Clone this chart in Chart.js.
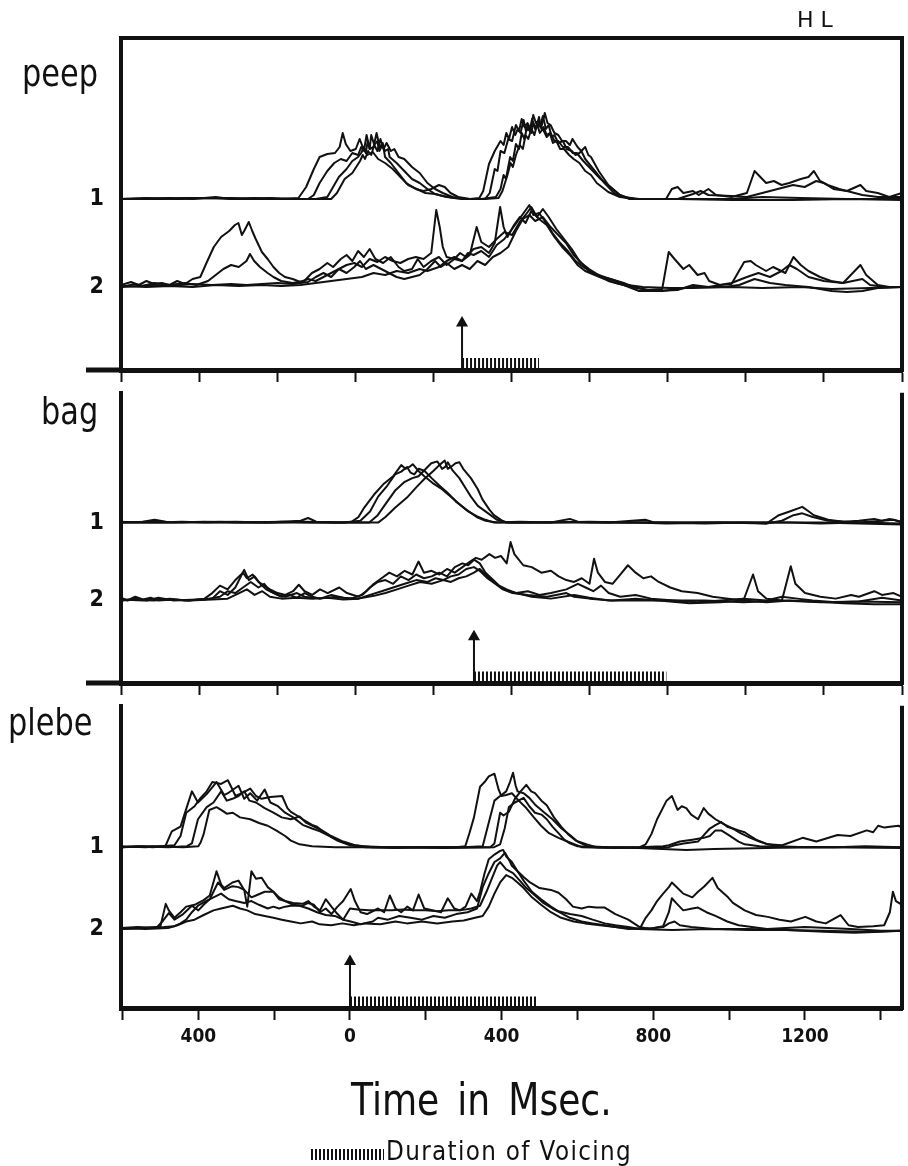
<!DOCTYPE html>
<html>
<head>
  <title>HL - peep / bag / plebe</title>
  <meta charset="UTF-8">
  <script src="https://cdn.jsdelivr.net/npm/chart.js@4"></script>
  <style>
    body { margin: 0; background: #fff; }
    #page { position: relative; width: 908px; height: 1166px; overflow: hidden; color: #111;
            font-family: 'DejaVu Sans', sans-serif; }
    canvas { position: absolute; left: 0; }
    .lbl { position: absolute; white-space: nowrap; line-height: 1; transform-origin: 0 0; }
    .word { font-size: 38px; transform: scaleX(0.8); }
    #voiceKey { position: absolute; left: 311px; top: 1149px; width: 73px; height: 11px;
                background: repeating-linear-gradient(90deg, #111 0 2px, transparent 2px 4px); }
  </style>
</head>
<body>
<div id="page">
  <canvas id="c1" width="908" height="410" style="top:0px"></canvas>
  <canvas id="c2" width="908" height="353" style="top:370px"></canvas>
  <canvas id="c3" width="908" height="483" style="top:683px"></canvas>

  <div class="lbl" style="left:797px;top:9px;font-size:22px;letter-spacing:7px">HL</div>
  <div class="lbl word" id="w0" style="left:22px;top:54px"></div>
  <div class="lbl word" id="w1" style="left:41px;top:392px"></div>
  <div class="lbl word" id="w2" style="left:8px;top:703px"></div>
  <div class="lbl" style="left:351px;top:1078px;font-size:44px;word-spacing:8px;transform:scaleX(0.82)">Time in Msec.</div>
  <div id="voiceKey"></div>
  <div class="lbl" style="left:386px;top:1138px;font-size:26px;letter-spacing:1.5px;transform:scaleX(0.89)">Duration of Voicing</div>
</div>

<script>
  // traces: [time in ms, height above its own baseline]
  // row 1 = upper group, row 2 = lower group, 4 repetitions each

  const peep1 = [
    [[-886,0],[-760,1],[-700,0],[-640,2],[-600,0],[-540,1],[-470,0],[-425,1],[-405,12],[-385,30],[-370,42],[-350,45],[-330,46],[-318,52],[-310,66],[-302,55],[-290,48],[-276,50],[-266,60],[-258,52],[-246,44],[-232,47],[-218,40],[-200,36],[-180,30],[-160,22],[-140,14],[-118,10],[-95,6],[-70,5],[-50,3],[-20,1],[20,0],[45,1],[55,8],[70,35],[85,48],[100,58],[108,54],[115,66],[122,60],[130,72],[138,64],[145,70],[152,66],[160,79],[166,68],[172,70],[180,66],[185,76],[192,70],[200,82],[206,70],[212,72],[220,64],[228,66],[236,56],[245,58],[255,50],[265,50],[278,44],[290,40],[305,36],[320,28],[335,24],[350,16],[380,7],[410,2],[450,0],[530,0],[545,10],[560,12],[575,6],[600,8],[615,4],[640,10],[660,4],[700,2],[740,6],[760,28],[775,22],[790,16],[810,18],[830,14],[850,16],[880,20],[900,22],[914,28],[930,18],[950,14],[980,10],[1000,8],[1035,14],[1050,8],[1080,6],[1110,2],[1143,6]],
    [[-886,0],[-800,0],[-720,1],[-600,1],[-520,0],[-440,0],[-400,0],[-385,4],[-370,16],[-350,28],[-332,36],[-315,40],[-300,38],[-285,46],[-270,44],[-262,52],[-255,48],[-248,64],[-240,50],[-230,52],[-222,66],[-214,52],[-206,56],[-200,42],[-185,36],[-165,26],[-145,16],[-120,10],[-100,8],[-80,10],[-60,14],[-45,12],[-30,6],[-10,2],[20,0],[60,0],[72,6],[85,30],[92,28],[100,48],[110,46],[120,60],[130,58],[140,74],[148,68],[155,80],[162,72],[170,76],[178,70],[185,84],[192,76],[198,78],[206,72],[215,86],[222,76],[230,74],[240,66],[250,64],[260,58],[270,58],[280,54],[287,60],[300,52],[310,48],[320,40],[345,28],[370,16],[395,6],[420,2],[460,0],[560,0],[600,5],[620,8],[640,4],[700,3],[740,2],[780,6],[820,10],[860,14],[890,12],[920,18],[940,16],[965,10],[1000,8],[1040,4],[1080,2],[1143,2]],
    [[-886,0],[-820,1],[-740,0],[-660,1],[-560,0],[-480,0],[-380,0],[-350,2],[-335,12],[-320,22],[-300,30],[-285,38],[-270,42],[-262,46],[-255,52],[-250,46],[-245,58],[-240,50],[-236,64],[-228,54],[-220,58],[-215,48],[-207,54],[-200,48],[-192,50],[-188,42],[-170,36],[-150,28],[-130,20],[-110,16],[-90,10],[-70,5],[-40,2],[0,0],[50,0],[88,2],[100,10],[108,24],[114,20],[125,42],[132,38],[140,55],[148,50],[155,66],[162,60],[170,74],[176,68],[182,80],[190,70],[195,76],[203,72],[210,83],[218,70],[225,74],[233,62],[240,64],[250,56],[262,58],[272,50],[285,48],[295,44],[305,46],[320,52],[328,44],[335,42],[355,28],[380,14],[410,4],[440,0],[600,0],[700,0],[780,2],[880,1],[1000,0],[1143,0]],
    [[-886,0],[-780,0],[-660,1],[-580,0],[-500,1],[-420,0],[-340,0],[-325,6],[-305,20],[-285,26],[-265,38],[-258,44],[-252,40],[-244,48],[-236,44],[-228,54],[-220,48],[-212,60],[-204,50],[-196,56],[-185,48],[-176,50],[-165,42],[-150,40],[-130,32],[-110,26],[-90,16],[-70,10],[-50,6],[-25,2],[10,0],[60,0],[95,1],[105,8],[118,24],[126,36],[132,32],[140,44],[150,54],[158,50],[165,64],[172,60],[180,70],[188,64],[195,75],[202,66],[210,70],[220,62],[230,66],[240,58],[250,58],[262,52],[275,52],[288,46],[298,46],[315,38],[335,30],[360,20],[385,12],[410,4],[435,0],[560,0],[700,-1],[860,-1],[1000,0],[1143,-1]]
  ];

  const peep2 = [
    [[-886,2],[-860,5],[-840,2],[-820,6],[-800,3],[-780,4],[-760,2],[-740,6],[-720,3],[-700,8],[-680,10],[-664,24],[-645,40],[-626,50],[-605,56],[-590,62],[-581,64],[-572,52],[-566,56],[-554,65],[-545,56],[-536,48],[-520,35],[-505,28],[-490,20],[-475,14],[-460,10],[-440,8],[-420,5],[-400,8],[-380,6],[-360,10],[-340,14],[-320,18],[-300,22],[-280,24],[-260,20],[-240,28],[-220,25],[-200,30],[-180,26],[-160,24],[-140,28],[-120,30],[-100,28],[-80,34],[-67,77],[-58,60],[-50,40],[-40,30],[-20,28],[0,26],[20,32],[38,60],[50,45],[70,40],[90,48],[110,55],[130,52],[150,65],[165,72],[180,80],[195,70],[210,78],[225,70],[245,58],[265,48],[285,38],[305,26],[330,16],[360,10],[386,8],[420,4],[446,0],[480,-3],[520,-2],[537,35],[552,28],[575,18],[590,22],[612,12],[630,14],[642,6],[670,2],[700,3],[733,25],[750,26],[763,22],[790,16],[808,20],[840,14],[861,30],[880,22],[900,16],[930,10],[959,6],[990,4],[1035,22],[1050,12],[1080,2],[1110,0],[1143,0]],
    [[-886,0],[-850,3],[-830,1],[-800,4],[-760,2],[-720,4],[-690,2],[-660,6],[-640,12],[-620,18],[-600,22],[-580,20],[-560,26],[-551,33],[-540,26],[-525,20],[-505,14],[-490,10],[-470,6],[-440,4],[-410,6],[-390,14],[-370,18],[-350,24],[-335,20],[-315,28],[-300,32],[-285,26],[-270,36],[-255,30],[-240,38],[-225,28],[-205,24],[-185,30],[-165,20],[-150,16],[-130,18],[-115,28],[-100,20],[-80,26],[-60,30],[-40,22],[-20,28],[-5,34],[10,30],[30,38],[50,40],[70,34],[85,44],[99,80],[108,60],[118,50],[135,62],[150,70],[165,64],[180,76],[200,68],[220,62],[240,50],[260,40],[280,32],[300,22],[320,16],[345,12],[370,8],[400,4],[440,0],[500,-4],[560,-3],[600,2],[640,0],[700,4],[740,10],[770,14],[800,10],[830,16],[850,22],[870,18],[900,10],[940,6],[990,4],[1040,8],[1060,2],[1100,0],[1143,0]],
    [[-886,0],[-840,1],[-800,2],[-760,1],[-700,3],[-650,2],[-600,3],[-560,2],[-520,3],[-480,4],[-440,3],[-400,5],[-380,10],[-360,14],[-340,10],[-320,18],[-300,14],[-280,20],[-265,26],[-250,18],[-230,22],[-210,18],[-190,14],[-170,10],[-150,8],[-130,10],[-110,12],[-90,18],[-70,26],[-55,20],[-40,24],[-20,18],[0,22],[20,18],[40,26],[60,22],[80,30],[100,34],[120,40],[140,56],[158,68],[175,72],[190,66],[210,70],[230,60],[250,52],[270,44],[290,32],[310,24],[330,18],[355,12],[380,6],[420,2],[460,-4],[520,-4],[560,-2],[600,0],[680,0],[720,2],[760,8],[800,4],[840,2],[900,0],[960,-4],[1000,-5],[1040,-4],[1080,-1],[1143,0]],
    [[-886,1],[-820,0],[-760,1],[-700,0],[-640,2],[-580,1],[-520,2],[-470,1],[-420,2],[-380,4],[-340,6],[-300,8],[-260,10],[-230,14],[-200,12],[-170,16],[-140,14],[-110,18],[-90,16],[-60,20],[-40,26],[-20,30],[0,26],[15,34],[30,32],[50,36],[70,30],[90,42],[110,48],[130,58],[145,66],[160,74],[175,82],[185,72],[200,74],[215,66],[235,54],[255,44],[275,36],[295,26],[315,20],[340,14],[370,10],[400,6],[430,2],[470,0],[540,-1],[600,-1],[700,0],[780,-1],[880,0],[960,-2],[1060,-1],[1143,0]]
  ];

  const bag1 = [
    [[-917,0],[-860,1],[-830,3],[-800,1],[-700,0],[-620,1],[-540,0],[-450,2],[-431,5],[-410,1],[-340,0],[-317,1],[-300,6],[-287,15],[-260,30],[-234,42],[-210,50],[-189,62],[-178,58],[-168,60],[-159,63],[-145,56],[-129,50],[-105,42],[-83,36],[-60,28],[-38,20],[-15,12],[7,7],[30,3],[52,0],[120,1],[200,0],[249,4],[270,1],[350,0],[445,3],[470,0],[600,-1],[700,0],[760,-1],[792,8],[820,12],[853,17],[870,12],[883,8],[920,3],[960,1],[1000,2],[1040,4],[1060,2],[1090,3],[1112,0]],
    [[-917,1],[-880,0],[-820,0],[-760,1],[-690,0],[-600,0],[-500,1],[-420,0],[-340,0],[-295,2],[-270,12],[-249,28],[-225,40],[-205,52],[-189,55],[-174,60],[-165,54],[-155,52],[-144,58],[-129,56],[-110,48],[-90,40],[-68,32],[-45,22],[-20,14],[7,6],[30,2],[60,0],[150,0],[240,1],[300,0],[420,0],[500,-1],[640,0],[760,-1],[800,2],[830,8],[853,10],[880,6],[920,2],[1000,0],[1060,2],[1080,4],[1112,1]],
    [[-917,0],[-850,1],[-780,0],[-700,1],[-620,0],[-520,0],[-440,1],[-360,0],[-272,0],[-250,8],[-230,20],[-204,35],[-180,44],[-160,48],[-144,50],[-125,58],[-111,64],[-95,66],[-83,58],[-75,60],[-68,65],[-55,56],[-38,48],[-20,36],[-8,28],[10,18],[37,10],[60,3],[90,0],[200,0],[300,1],[400,0],[600,0],[820,0],[900,-1],[1000,0],[1112,-1]],
    [[-917,0],[-840,0],[-760,0],[-660,1],[-560,0],[-460,0],[-380,0],[-249,0],[-230,6],[-205,16],[-174,27],[-150,38],[-129,47],[-105,56],[-90,62],[-76,67],[-68,58],[-60,60],[-48,64],[-38,65],[-28,58],[-8,48],[10,36],[22,25],[40,14],[52,8],[70,3],[83,0],[200,0],[300,0],[500,0],[700,0],[900,0],[1000,-1],[1112,-2]]
  ];

  const bag2 = [
    [[-917,3],[-900,0],[-880,4],[-860,1],[-840,3],[-820,0],[-780,1],[-740,0],[-700,2],[-680,8],[-660,16],[-640,12],[-620,22],[-600,30],[-590,24],[-575,28],[-560,20],[-545,16],[-530,12],[-510,8],[-490,6],[-470,10],[-455,17],[-440,10],[-420,6],[-400,12],[-380,8],[-350,14],[-330,8],[-300,4],[-280,10],[-260,18],[-240,24],[-220,30],[-200,26],[-180,32],[-160,28],[-144,42],[-130,30],[-110,32],[-90,28],[-70,34],[-50,30],[-30,36],[-10,42],[5,46],[20,44],[40,50],[55,46],[70,48],[85,40],[95,63],[105,50],[128,38],[150,36],[175,30],[200,32],[220,26],[240,22],[260,20],[280,24],[300,18],[312,45],[322,30],[340,20],[360,18],[380,28],[400,38],[420,30],[440,24],[460,26],[480,20],[510,14],[540,10],[581,8],[620,4],[660,2],[700,0],[725,28],[738,10],[760,2],[800,0],[823,37],[835,18],[860,8],[900,4],[940,2],[980,6],[1000,4],[1040,10],[1060,6],[1090,8],[1112,4]],
    [[-917,0],[-880,2],[-850,0],[-820,3],[-780,0],[-720,1],[-680,2],[-660,10],[-640,6],[-620,14],[-597,33],[-585,22],[-570,26],[-555,18],[-540,12],[-520,8],[-500,4],[-480,6],[-460,3],[-440,8],[-420,4],[-400,2],[-360,4],[-320,2],[-290,6],[-270,14],[-250,20],[-230,22],[-210,18],[-190,26],[-170,22],[-150,28],[-130,24],[-110,26],[-90,30],[-70,26],[-50,36],[-30,40],[-15,38],[0,44],[15,40],[30,30],[50,22],[70,14],[90,10],[110,8],[140,10],[170,6],[200,8],[240,12],[270,18],[290,14],[310,10],[330,16],[350,8],[380,4],[420,6],[460,2],[520,0],[580,-2],[640,0],[700,2],[760,0],[800,4],[840,2],[880,0],[940,-2],[1000,-1],[1060,3],[1112,0]],
    [[-917,0],[-870,1],[-830,0],[-790,2],[-750,0],[-700,1],[-660,4],[-640,10],[-620,8],[-600,14],[-580,20],[-560,14],[-545,18],[-530,10],[-510,6],[-490,4],[-460,8],[-440,4],[-400,2],[-370,6],[-340,3],[-300,2],[-270,6],[-240,10],[-210,14],[-180,18],[-150,22],[-120,20],[-100,24],[-80,22],[-60,26],[-40,28],[-20,34],[0,36],[15,32],[35,24],[55,18],[75,12],[100,8],[140,6],[190,4],[240,8],[260,4],[300,2],[360,0],[420,2],[480,0],[560,-3],[640,-2],[700,0],[760,-2],[820,0],[880,-1],[960,-3],[1040,-4],[1112,-4]],
    [[-917,1],[-860,0],[-800,1],[-740,0],[-680,1],[-640,2],[-610,8],[-590,12],[-570,6],[-550,10],[-530,4],[-500,2],[-460,3],[-420,2],[-380,3],[-340,1],[-300,2],[-260,5],[-230,8],[-200,12],[-170,16],[-140,20],[-110,18],[-80,22],[-60,20],[-40,24],[-20,26],[0,30],[15,34],[30,28],[45,22],[65,16],[85,12],[110,8],[150,4],[200,2],[260,6],[300,3],[350,0],[420,0],[500,0],[600,0],[700,-2],[800,0],[900,-2],[1000,-1],[1112,-2]]
  ];

  const plebe1 = [
    [[-604,0],[-560,1],[-520,0],[-490,1],[-486,2],[-470,17],[-447,22],[-417,60],[-401,48],[-378,57],[-352,70],[-332,56],[-322,58],[-294,66],[-279,52],[-263,58],[-245,50],[-225,62],[-210,48],[-190,44],[-171,37],[-150,32],[-125,24],[-100,20],[-79,17],[-55,12],[-33,7],[0,2],[40,0],[120,-1],[200,0],[280,0],[304,1],[315,15],[327,32],[343,65],[355,70],[366,76],[381,79],[392,62],[399,55],[412,56],[427,58],[445,50],[465,42],[485,32],[504,23],[525,15],[550,10],[580,5],[611,0],[700,-1],[764,0],[780,3],[795,14],[810,30],[825,42],[835,50],[849,55],[858,46],[864,40],[875,44],[887,42],[900,35],[918,30],[933,42],[945,36],[964,30],[985,25],[1010,20],[1030,15],[1056,10],[1080,6],[1102,3],[1133,1],[1200,0],[1280,0],[1360,1],[1456,0]],
    [[-604,1],[-540,0],[-500,1],[-463,2],[-447,12],[-432,37],[-410,44],[-394,53],[-378,60],[-363,70],[-340,68],[-322,72],[-310,62],[-302,55],[-285,58],[-263,63],[-248,55],[-233,52],[-210,54],[-179,55],[-165,42],[-156,38],[-140,34],[-125,30],[-100,24],[-87,22],[-64,15],[-49,11],[-25,6],[-3,3],[30,1],[100,0],[200,0],[300,0],[350,1],[362,20],[381,50],[396,55],[412,60],[422,70],[430,80],[437,66],[442,60],[458,58],[473,53],[490,45],[510,38],[534,30],[558,20],[580,13],[600,6],[626,1],[680,0],[800,-1],[841,0],[856,2],[880,4],[918,6],[949,20],[965,24],[979,27],[995,22],[1010,20],[1025,18],[1041,16],[1056,12],[1071,8],[1102,3],[1140,2],[1194,10],[1230,6],[1286,13],[1320,12],[1363,18],[1380,16],[1393,23],[1410,21],[1424,22],[1447,23],[1456,21]],
    [[-604,0],[-550,1],[-480,0],[-430,1],[-417,4],[-401,30],[-378,43],[-360,48],[-340,60],[-325,50],[-310,52],[-294,55],[-279,60],[-265,50],[-248,48],[-225,42],[-202,37],[-180,32],[-156,30],[-133,33],[-115,26],[-95,22],[-70,17],[-50,12],[-18,6],[13,2],[60,0],[150,0],[260,0],[370,0],[381,4],[396,37],[405,34],[419,38],[435,52],[450,60],[465,67],[478,60],[488,58],[505,50],[519,45],[538,32],[557,22],[575,14],[596,7],[625,3],[650,0],[760,0],[826,1],[841,2],[870,6],[903,8],[933,10],[949,12],[964,18],[979,18],[995,14],[1010,10],[1025,6],[1041,3],[1080,1],[1150,0],[1260,0],[1360,0],[1456,0]],
    [[-604,0],[-520,1],[-440,0],[-400,1],[-394,5],[-386,14],[-371,40],[-352,43],[-340,40],[-325,36],[-309,37],[-290,32],[-263,30],[-240,26],[-217,23],[-195,18],[-171,12],[-156,7],[-133,3],[-100,1],[-40,0],[100,0],[250,-1],[380,0],[396,3],[408,20],[419,43],[435,48],[458,53],[473,44],[488,37],[505,35],[519,30],[534,22],[550,15],[565,8],[580,4],[600,1],[650,0],[760,-1],[887,-3],[960,-2],[1100,-1],[1200,0],[1300,0],[1456,-1]]
  ];

  const plebe2 = [
    [[-604,1],[-560,2],[-520,1],[-500,3],[-486,27],[-478,20],[-463,12],[-447,18],[-432,24],[-410,26],[-386,31],[-370,36],[-352,62],[-340,48],[-332,44],[-310,50],[-294,52],[-279,42],[-271,24],[-260,62],[-248,54],[-233,55],[-217,45],[-202,40],[-187,34],[-171,30],[-150,26],[-125,25],[-110,28],[-95,26],[-79,18],[-64,22],[-49,16],[-33,24],[-18,30],[2,43],[13,30],[28,18],[45,16],[74,22],[90,18],[105,36],[120,22],[135,18],[151,24],[166,20],[181,37],[196,22],[220,20],[240,18],[258,33],[275,22],[290,20],[305,24],[320,38],[335,30],[343,40],[355,60],[366,75],[381,80],[396,84],[404,85],[412,78],[427,72],[442,62],[458,52],[480,40],[504,32],[530,24],[550,19],[580,16],[611,14],[640,10],[672,6],[700,4],[734,2],[764,0],[780,12],[795,20],[810,30],[826,38],[841,45],[849,50],[864,44],[879,38],[903,34],[918,40],[935,46],[956,55],[970,44],[995,35],[1010,28],[1041,20],[1071,15],[1102,13],[1133,10],[1163,8],[1201,13],[1230,8],[1255,6],[1294,15],[1315,4],[1340,2],[1380,3],[1409,4],[1424,18],[1432,40],[1440,30],[1456,26]],
    [[-604,0],[-560,1],[-509,2],[-495,8],[-478,17],[-463,10],[-440,16],[-417,25],[-400,20],[-386,26],[-370,32],[-348,50],[-332,42],[-310,46],[-294,45],[-279,42],[-260,34],[-248,36],[-225,40],[-202,40],[-187,32],[-171,30],[-150,28],[-125,27],[-110,30],[-95,24],[-79,20],[-64,32],[-49,24],[-33,16],[-18,10],[2,8],[28,5],[60,8],[74,12],[100,10],[130,14],[160,12],[190,10],[220,14],[250,12],[280,16],[310,18],[335,22],[350,45],[366,60],[381,72],[396,76],[409,82],[420,74],[427,68],[442,62],[458,56],[475,50],[500,44],[530,42],[550,39],[570,32],[588,24],[611,22],[630,24],[650,23],[672,23],[700,16],[734,10],[764,2],[790,0],[826,3],[841,18],[849,33],[860,28],[879,20],[903,22],[918,23],[940,18],[964,14],[995,8],[1025,4],[1060,2],[1100,0],[1200,2],[1260,1],[1320,0],[1400,-2],[1456,-2]],
    [[-604,0],[-540,1],[-490,2],[-463,3],[-447,6],[-432,10],[-417,18],[-401,25],[-380,30],[-360,34],[-340,38],[-320,32],[-302,30],[-279,28],[-260,30],[-240,26],[-217,22],[-202,24],[-187,22],[-171,24],[-156,25],[-133,25],[-110,22],[-87,18],[-64,15],[-40,14],[-18,10],[0,22],[20,21],[50,20],[80,20],[110,20],[140,21],[170,20],[200,20],[230,19],[260,20],[290,20],[320,22],[343,25],[360,40],[373,53],[388,68],[396,72],[412,64],[430,60],[448,52],[465,44],[488,36],[510,28],[534,22],[557,17],[580,12],[611,8],[640,6],[672,4],[700,2],[734,0],[800,1],[826,2],[841,6],[856,8],[870,4],[900,2],[960,0],[1050,0],[1150,-1],[1250,-2],[1350,-3],[1456,-2]],
    [[-604,1],[-540,0],[-480,1],[-455,4],[-432,8],[-410,10],[-386,15],[-360,20],[-340,22],[-309,25],[-290,22],[-271,20],[-250,16],[-225,14],[-202,12],[-180,10],[-156,8],[-130,6],[-100,8],[-80,5],[-50,4],[-20,6],[10,4],[40,6],[80,5],[120,8],[150,6],[190,8],[230,6],[270,8],[300,9],[330,12],[350,14],[366,24],[381,38],[396,50],[412,58],[427,55],[442,50],[458,44],[480,34],[504,26],[530,18],[557,12],[590,8],[620,6],[660,4],[700,2],[760,0],[850,-1],[950,0],[1050,-1],[1150,-1],[1250,-3],[1330,-4],[1400,-3],[1456,-2]]
  ];

  const words = ['peep', 'bag', 'plebe'];
  const rowNames = ['1', '2'];
  const voicingMs = [200, 500, 495];      // end of the hatched voicing bar
  const arrowTop = [-36, -39, -35];        // arrow head, below row-2 baseline
  const timeRange = [[-886, 1143], [-917, 1112], [-604, 1456]];
  const bottomLabels = [-400, 0, 400, 800, 1200];

  // page layout (pixels): chart area top/bottom and the two baselines
  const panels = [
    { id: 'c1', top: 0,   height: 410, area: [38, 370],  base: [199, 287], rows: [peep1, peep2],   stub: 35, frameTop: true },
    { id: 'c2', top: 370, height: 353, area: [370, 683], base: [510, 594], rows: [bag1, bag2],     stub: 35 },
    { id: 'c3', top: 683, height: 483, area: [683, 1008], base: [835, 923], rows: [plebe1, plebe2], stub: 0 }
  ];

  words.forEach((w, i) => document.getElementById('w' + i).textContent = w);

  const ink = '#111';
  const tickFamily = "'DejaVu Sans Condensed', 'DejaVu Sans', sans-serif";

  const framePlugin = {
    id: 'frame',
    afterDraw(chart, args, opts) {
      const { ctx, chartArea: a } = chart;
      ctx.save();
      ctx.strokeStyle = ink;
      ctx.lineWidth = 4;
      ctx.beginPath();
      ctx.moveTo(a.right, a.top - (opts.top ? 2 : 0));
      ctx.lineTo(a.right, a.bottom + 2);
      if (opts.top) {
        ctx.moveTo(a.left - 2, a.top);
        ctx.lineTo(a.right + 2, a.top);
      }
      ctx.stroke();
      if (opts.stub) {
        ctx.lineWidth = 5;
        ctx.beginPath();
        ctx.moveTo(a.left - opts.stub, a.bottom);
        ctx.lineTo(a.left, a.bottom);
        ctx.stroke();
      }
      ctx.restore();
    }
  };

  panels.forEach((p, i) => {
    const yMin = -(p.area[1] - p.base[1]);
    const yMax = p.base[1] - p.area[0];
    const offsets = [p.base[1] - p.base[0], 0];
    const axisH = p.top + p.height - p.area[1];

    const datasets = [];
    p.rows.forEach((row, r) => {
      row.forEach(trace => {
        datasets.push({
          data: trace.map(([t, v]) => ({ x: t, y: v + offsets[r] })),
          borderColor: ink, borderWidth: 2, pointRadius: 0, tension: 0,
          borderJoinStyle: 'round'
        });
      });
    });
    // onset arrow at time 0
    datasets.push({
      data: [{ x: 0, y: yMin }, { x: 0, y: arrowTop[i] }],
      borderColor: ink, borderWidth: 2,
      pointRadius: [0, 5], pointStyle: 'triangle',
      pointBackgroundColor: ink, pointBorderColor: ink
    });
    // hatched duration of voicing
    datasets.push({
      data: [{ x: 0, y: yMin + 7 }, { x: voicingMs[i], y: yMin + 7 }],
      borderColor: ink, borderWidth: 10, borderDash: [2, 2],
      borderCapStyle: 'butt', pointRadius: 0
    });

    new Chart(document.getElementById(p.id), {
      type: 'line',
      data: { datasets },
      options: {
        responsive: false,
        animation: false,
        events: [],
        layout: { padding: { top: p.area[0] - p.top, right: 6, left: 0, bottom: 0 }, autoPadding: false },
        plugins: {
          legend: { display: false },
          tooltip: { enabled: false },
          frame: { top: !!p.frameTop, stub: p.stub }
        },
        scales: {
          x: {
            type: 'linear',
            min: timeRange[i][0], max: timeRange[i][1],
            afterFit: s => { s.height = axisH; },
            border: { display: true, width: 5, color: ink },
            grid: { drawOnChartArea: false, drawTicks: true, tickLength: 12, tickWidth: 2, color: ink },
            ticks: {
              stepSize: 200, includeBounds: false, autoSkip: false, maxRotation: 0,
              padding: i === 2 ? 6 : 3,
              color: ink,
              font: { family: tickFamily, size: 19, weight: 'bold' },
              callback: v => i === 2
                ? (bottomLabels.includes(v) ? String(Math.abs(v)) : '')
                : (v === 0 ? '0' : '')
            }
          },
          y: {
            type: 'linear',
            min: yMin, max: yMax,
            afterFit: s => { s.width = 121; },
            afterBuildTicks: s => { s.ticks = offsets.map(v => ({ value: v })); },
            border: { display: true, width: 4, color: ink },
            grid: { display: false },
            ticks: {
              padding: 9,
              color: ink,
              font: { family: tickFamily, size: 23, weight: 'bold' },
              callback: v => rowNames[offsets.indexOf(v)]
            }
          }
        }
      },
      plugins: [framePlugin]
    });
  });
</script>
</body>
</html>
